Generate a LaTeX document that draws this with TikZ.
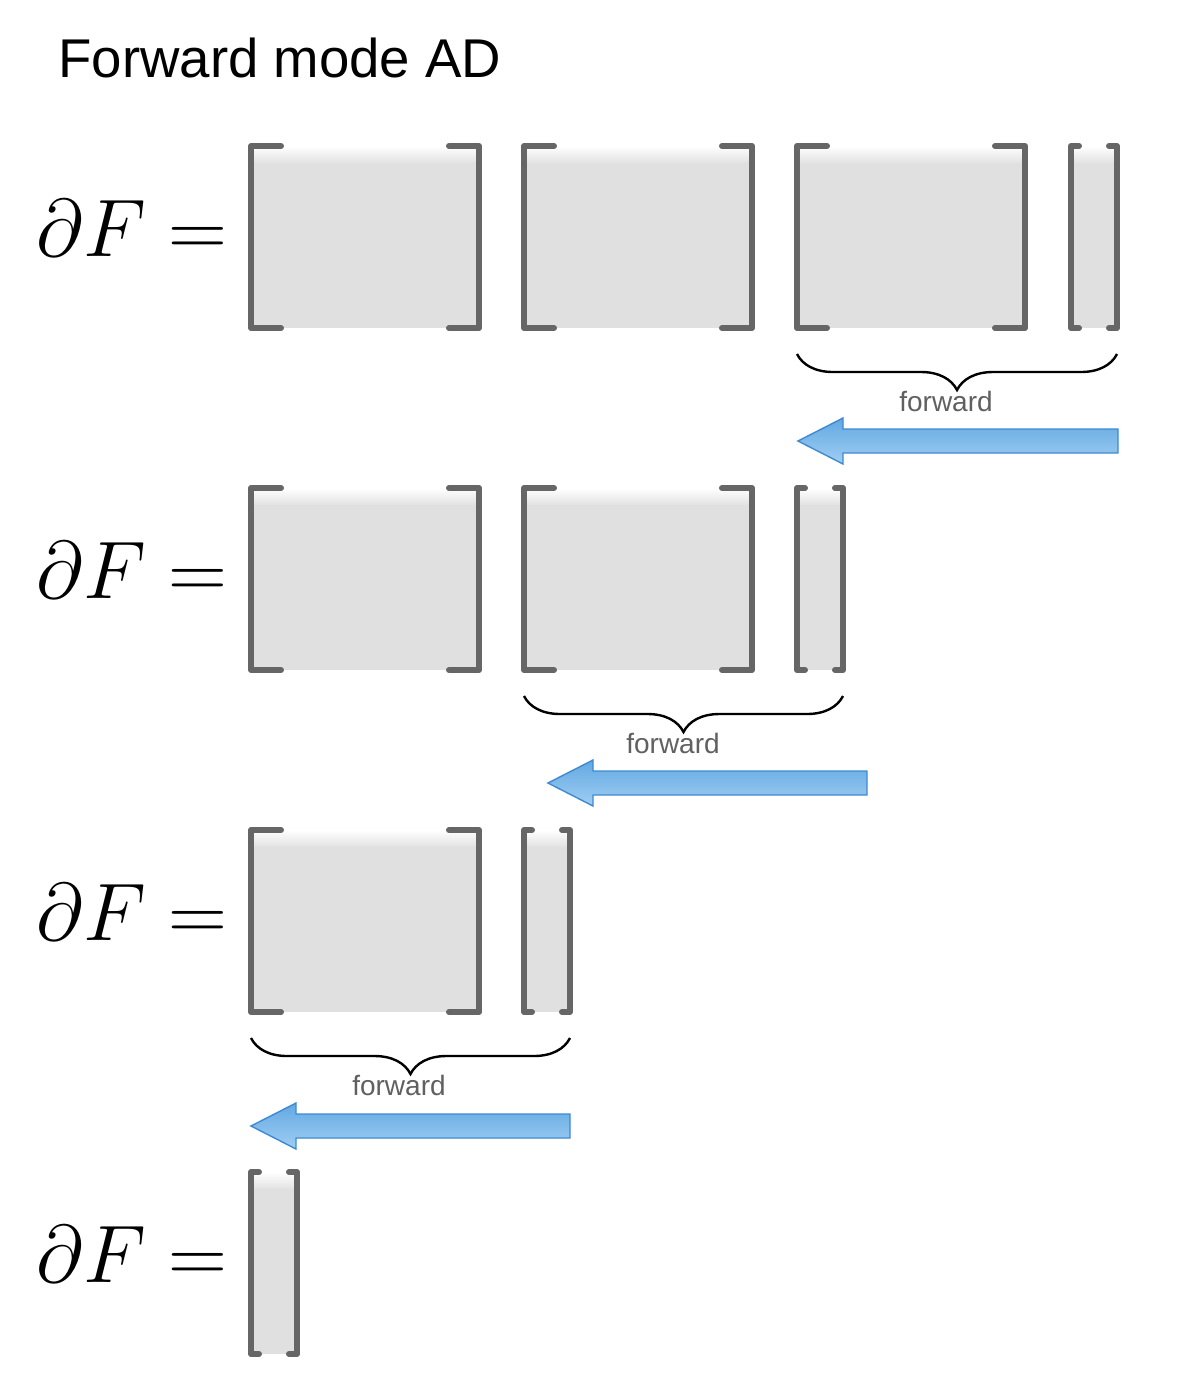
\documentclass[tikz,border=0pt]{standalone}
\usepackage{fontspec}
\setsansfont{Liberation Sans}
\usepackage{amsmath}
\usetikzlibrary{decorations.pathreplacing, calc}
\definecolor{matfill}{RGB}{224,224,224}
\definecolor{brackclr}{RGB}{102,102,102}
\definecolor{arrowtop}{RGB}{98,168,226}
\definecolor{arrowbot}{RGB}{160,206,243}
\definecolor{arrowline}{RGB}{62,138,208}
\definecolor{labclr}{RGB}{96,96,96}
\tikzset{
  % Matritsa qavslari
  brack/.style    = {line width=3pt, draw=brackclr, line cap=round, line join=round},
  % Pastki qavs (brace)
  fwdbrace/.style = {decorate, decoration={brace, mirror, amplitude=18pt}, line width=1.2pt},
  fwdlab/.style   = {font=\sffamily\fontsize{14}{16}\selectfont, text=labclr, inner sep=0pt, anchor=base},
  % Katta ko'k strelka
  bigarrow/.style = {draw=arrowline, line width=0.7pt, top color=arrowtop, bottom color=arrowbot},
  eqlab/.style    = {font=\fontsize{24.88}{26}\selectfont, scale=1.64, inner sep=0pt, anchor=base east},
  titlelab/.style = {font=\sffamily\fontsize{27.3}{30}\selectfont, inner sep=0pt, anchor=base west},
}
% #1 = chap x, #2 = yuqori y, #3 = eni, #4 = qavs uzunligi
\newcommand{\jacbox}[4]{%
  \shade[top color=white, bottom color=matfill] (#1,#2) rectangle ({#1+#3},{#2+18});
  \fill[matfill] (#1,{#2+17}) rectangle ({#1+#3},{#2+182});
  \draw[brack] ({#1+#4},#2) -- (#1,#2) -- (#1,{#2+182}) -- ({#1+#4},{#2+182});
  \draw[brack] ({#1+#3-#4},#2) -- ({#1+#3},#2) -- ({#1+#3},{#2+182}) -- ({#1+#3-#4},{#2+182});
}
% #1 = uchi x, #2 = dum x, #3 = markaz y
\newcommand{\fwdarrow}[3]{%
  \draw[bigarrow] (#1,#3) -- ({#1+45},{#3-23}) -- ({#1+45},{#3-12}) -- (#2,{#3-12})
    -- (#2,{#3+12}) -- ({#1+45},{#3+12}) -- ({#1+45},{#3+23}) -- cycle;
}
\begin{document}
\begin{tikzpicture}[x=0.5pt, y=-0.5pt]
  \useasboundingbox (0,0) rectangle (1190,1382);
  % Sarlavha
  \node[titlelab] (title) at (58,77) {Forward mode AD};
  % Tenglamalar
  \foreach \yt/\nm in {146/eqA, 488/eqB, 830/eqC, 1172/eqD}{
    \node[eqlab] (\nm) at (228,\yt+110) {$\partial F =$};
  }
  % 1-qator
  \jacbox{251}{146}{228}{30}
  \jacbox{524}{146}{228}{30}
  \jacbox{797}{146}{228}{30}
  \jacbox{1071}{146}{46}{8}
  % 2-qator
  \jacbox{251}{488}{228}{30}
  \jacbox{524}{488}{228}{30}
  \jacbox{797}{488}{46}{8}
  % 3-qator
  \jacbox{251}{830}{228}{30}
  \jacbox{524}{830}{46}{8}
  % 4-qator
  \jacbox{251}{1172}{46}{8}
  % Qavslar va yozuvlar
  \coordinate (bA1) at (797,354);  \coordinate (bA2) at (1117,354);
  \coordinate (bB1) at (524,696);  \coordinate (bB2) at (843,696);
  \coordinate (bC1) at (251,1038); \coordinate (bC2) at (570,1038);
  \draw[fwdbrace] (bA1) -- (bA2);
  \draw[fwdbrace] (bB1) -- (bB2);
  \draw[fwdbrace] (bC1) -- (bC2);
  \node[fwdlab] (fwdA) at (946,411) {forward};
  \node[fwdlab] (fwdB) at (673,753) {forward};
  \node[fwdlab] (fwdC) at (399,1095) {forward};
  % Strelkalar
  \fwdarrow{798}{1118}{441}
  \fwdarrow{548}{867}{783}
  \fwdarrow{251}{570}{1126}
\end{tikzpicture}
\end{document}
